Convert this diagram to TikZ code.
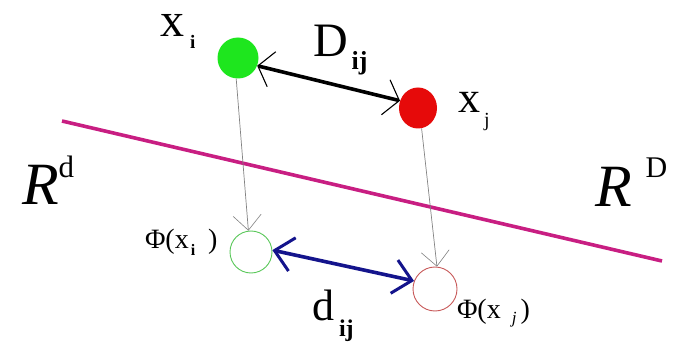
\documentclass[tikz,border=0pt]{standalone}
\usepackage{fontspec}
\setmainfont{Liberation Serif}
\usetikzlibrary{arrows.meta,shapes.geometric}
\definecolor{ptgreen}{RGB}{30,230,30}
\definecolor{ptred}{RGB}{230,10,10}
\definecolor{maglin}{RGB}{200,30,130}
\definecolor{darkblu}{RGB}{20,20,140}
\definecolor{projgray}{RGB}{130,130,130}
\definecolor{opengreen}{RGB}{90,200,90}
\definecolor{openred}{RGB}{200,90,90}
\newcommand{\fsz}[1]{\fontsize{#1}{#1}\selectfont}
\begin{document}
\begin{tikzpicture}[x=1pt,y=-1pt,
  lbl/.style={anchor=base west, inner sep=0pt, outer sep=0pt},
  filledpt/.style={circle, inner sep=0pt, minimum size=41pt},
  openpt/.style={circle, inner sep=0pt, line width=0.9pt, fill=white},
  blackarrow/.style={line width=3.6pt, black,
    {Straight Barb[length=14pt, width=36pt, line width=1.1pt]}-{Straight Barb[length=14pt, width=36pt, line width=1.1pt]}},
  bluearrow/.style={line width=3.6pt, darkblu,
    {Straight Barb[length=18pt, width=34pt, line width=3pt]}-{Straight Barb[length=18pt, width=34pt, line width=3pt]}},
  projarrow/.style={line width=0.7pt, projgray,
    -{Straight Barb[length=15pt, width=28pt, line width=0.6pt]}},
  magline/.style={line width=3.6pt, maglin}]
\useasboundingbox (0,0) rectangle (681,342);
\fill[white] (0,0) rectangle (681,342);

% separating line
\coordinate (m1) at (62,121);
\coordinate (m2) at (662,261);
\draw[magline] (m1) -- (m2);

% points
\node[filledpt, fill=ptgreen] (xi) at (238,58) {};
\node[ellipse, inner sep=0pt, minimum width=38pt, minimum height=41pt, fill=ptred] (xj) at (418,108) {};
\node[openpt, draw=opengreen, minimum size=42pt] (phii) at (251,252) {};
\node[openpt, draw=openred, minimum size=44pt] (phij) at (435,289) {};

% connectors
\draw[projarrow] (xi.-95) -- (phii.97);
\draw[projarrow] (xj.-80) -- (phij.85);
\draw[blackarrow] (xi.-22) -- (xj.158);
\draw[bluearrow] (phii.5) -- (phij.159);

% labels
\node[lbl] (lxi) at (160,37) {\fsz{48}x\kern6pt\raisebox{-12pt}{\fsz{19}\bfseries i}};
\node[lbl] (lD) at (313,57) {\fsz{48}D\kern4pt\raisebox{-13pt}{\fsz{26}\bfseries ij}};
\node[lbl] (lxj) at (458,113) {\fsz{44}x\kern4pt\raisebox{-14pt}{\fsz{20}j}};
\node[lbl] (lRd) at (22,205) {\fsz{60}\itshape R\upshape\raisebox{27pt}{\fsz{31}d}};
\node[lbl] (lRD) at (595,207) {\fsz{60}\itshape R\upshape\kern14pt\raisebox{29pt}{\fsz{30}D}};
\node[lbl] (lphii) at (145,249) {\fsz{28}Φ(x\kern2pt\raisebox{-6pt}{\fsz{16}\bfseries i}\kern13pt)};
\node[lbl] (lphij) at (457,319) {\fsz{28}Φ(x\kern11pt\raisebox{-5pt}{\fsz{17}\itshape j}\kern4pt)};
\node[lbl] (ld) at (312,320) {\fsz{44}d\kern5pt\raisebox{-16pt}{\fsz{24}\bfseries ij}};
\end{tikzpicture}
\end{document}
